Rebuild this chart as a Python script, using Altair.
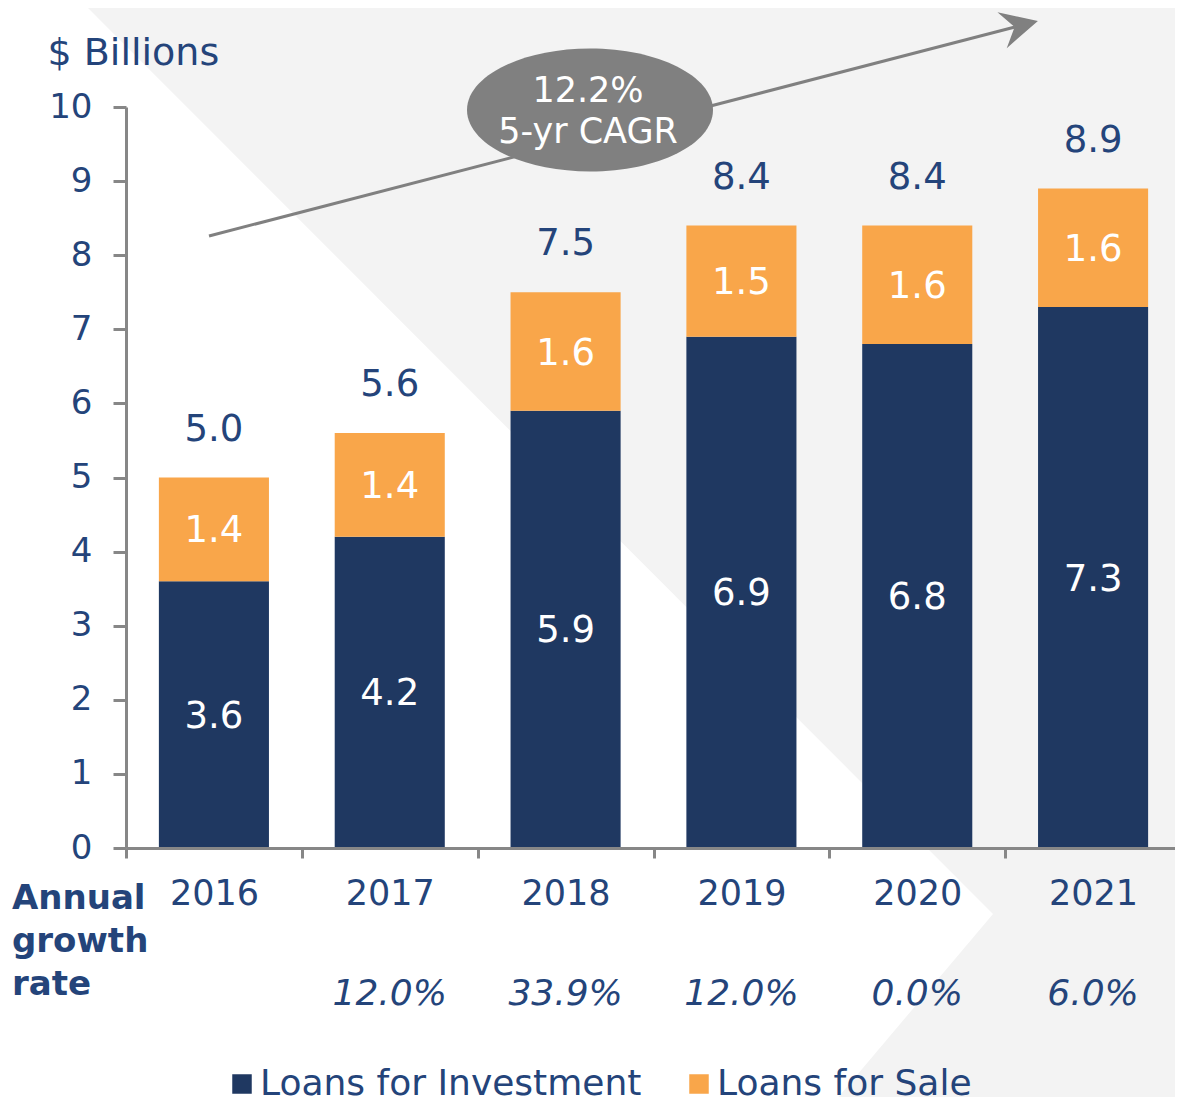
import altair as alt
import pandas as pd

# ---------------- data ----------------
years = ["2016", "2017", "2018", "2019", "2020", "2021"]
investment = [3.6, 4.2, 5.9, 6.9, 6.8, 7.3]
sale = [1.4, 1.4, 1.6, 1.5, 1.6, 1.6]
totals = [5.0, 5.6, 7.5, 8.4, 8.4, 8.9]
growth = ["", "12.0%", "33.9%", "12.0%", "0.0%", "6.0%"]
series = ["Loans for Investment", "Loans for Sale"]
cagr_text = "12.2%\n5-yr CAGR"
row_label = "Annual\ngrowth\nrate"
y_ticks = [0, 1, 2, 3, 4, 5, 6, 7, 8, 9, 10]

# ---------------- styles ----------------
NAVY_BAR = "#1f3861"
ORANGE = "#f9a64a"
TEXT = "#24447a"
GREY = "#808080"
AXIS_GREY = "#878787"
BG = "#f3f3f3"
FONT = "DejaVu Sans"

ARROW_PATH = "M1,0L-1,-1L-0.3,0L-1,1Z"
ELLIPSE_PATH = "M-1,0A1,0.5,0,1,0,1,0A1,0.5,0,1,0,-1,0Z"

# decorative white background polygon (plot-pixel coordinates)
bg_polygon = [[-136, -117], [-56, -117], [867, 807], [693, 1013], [-136, 1013], [-136, -117]]

rows = []
for i, yr in enumerate(years):
    rows.append({"year": yr, "series": series[0], "idx": 0, "value": investment[i]})
    rows.append({"year": yr, "series": series[1], "idx": 1, "value": sale[i]})
df = pd.DataFrame(rows)
tot_df = pd.DataFrame({"year": years, "total": totals, "growth": growth})
one = pd.DataFrame({"a": [0]})

x_axis = alt.Axis(
    title=None, labelAngle=0, labelFontSize=35, labelColor=TEXT, labelFont=FONT,
    labelPadding=18, tickBand="extent", tickSize=10, tickWidth=3, tickColor=AXIS_GREY,
    domainWidth=3, domainColor=AXIS_GREY, grid=False, zindex=1,
)
x_scale = alt.Scale(paddingInner=0, paddingOuter=0, range=[0, 1055])
y_axis = alt.Axis(
    values=y_ticks, title="$ Billions", titleAngle=0, titleAlign="left",
    titleBaseline="middle", titleX=-79, titleY=-54, titleFontSize=38,
    titleFontWeight="normal", titleColor=TEXT, titleFont=FONT,
    labelFontSize=34, labelColor=TEXT, labelFont=FONT, labelPadding=21,
    tickSize=13, tickWidth=3, tickColor=AXIS_GREY, domainWidth=3,
    domainColor=AXIS_GREY, grid=False, zindex=1,
)
y_scale = alt.Scale(domain=[0, 10])


def X():
    return alt.X("year:N", sort=years, scale=x_scale, axis=x_axis)


def Y(field):
    return alt.Y(field, scale=y_scale, axis=y_axis)


bg = alt.Chart(
    alt.Data(values=[{"type": "Feature", "properties": {},
                      "geometry": {"type": "Polygon", "coordinates": [bg_polygon]}}])
).mark_geoshape(fill="white", stroke="white", strokeWidth=0, clip=False).project(
    type="identity", scale=1, translate=[0, 0]
)

arrow_line = alt.Chart(one).mark_rule(color=GREY, strokeWidth=3).encode(
    x=alt.value(83), y=alt.value(129), x2=alt.value(889), y2=alt.value(-80)
)
arrow_head = alt.Chart(one).mark_point(
    shape=ARROW_PATH, size=1369, filled=True, color=GREY, opacity=1, angle=345.5
).encode(x=alt.value(894), y=alt.value(-81.4))
ellipse = alt.Chart(one).mark_point(
    shape=ELLIPSE_PATH, size=60516, filled=True, color=GREY, opacity=1
).encode(x=alt.value(464), y=alt.value(3))
cagr = alt.Chart(pd.DataFrame({"t": [cagr_text]})).mark_text(
    align="center", baseline="top", lineBreak="\n", lineHeight=41,
    fontSize=35, color="white", font=FONT
).encode(x=alt.value(462), y=alt.value(-33), text="t:N")

bars = alt.Chart(df).mark_bar(width=alt.RelativeBandSize(0.626)).encode(
    x=X(),
    y=alt.Y("value:Q", stack="zero", scale=y_scale, axis=y_axis),
    color=alt.Color(
        "series:N",
        scale=alt.Scale(domain=series, range=[NAVY_BAR, ORANGE]),
        legend=alt.Legend(
            title=None, orient="none", legendX=98, legendY=959,
            direction="horizontal", symbolType="square", symbolSize=380,
            symbolStrokeWidth=0, symbolOpacity=1, labelFontSize=36,
            labelColor=TEXT, labelFont=FONT, labelOffset=0, columnPadding=39,
            padding=0, labelLimit=800,
        ),
    ),
    order=alt.Order("idx:Q", sort="ascending"),
)

seg_labels = alt.Chart(df).transform_stack(
    stack="value", groupby=["year"], as_=["v0", "v1"], sort=[alt.SortField("idx")]
).transform_calculate(mid="(datum.v0 + datum.v1) / 2").mark_text(
    color="white", fontSize=37, baseline="middle", dy=2, font=FONT
).encode(x=X(), y=Y("mid:Q"), text=alt.Text("value:Q", format=".1f"))

total_labels = alt.Chart(tot_df).mark_text(
    color=TEXT, fontSize=37, baseline="middle", dy=-48, font=FONT
).encode(x=X(), y=Y("total:Q"), text=alt.Text("total:Q", format=".1f"))

growth_labels = alt.Chart(tot_df).mark_text(
    color=TEXT, fontSize=36, fontStyle="italic", baseline="middle", font=FONT
).encode(x=X(), y=alt.value(887), text="growth:N")

row_text = alt.Chart(pd.DataFrame({"t": [row_label]})).mark_text(
    align="left", baseline="top", lineBreak="\n", lineHeight=43,
    fontWeight="bold", fontSize=34, color=TEXT, font=FONT
).encode(x=alt.value(-114), y=alt.value(775), text="t:N")

chart = alt.layer(
    bg, arrow_line, ellipse, arrow_head, cagr,
    bars, seg_labels, total_labels, growth_labels, row_text
).properties(
    width=1049, height=741,
    padding={"left": 118, "top": 99, "right": 0, "bottom": 249},
    autosize=alt.AutoSizeParams(type="none"),
).configure(background=BG, font=FONT).configure_view(stroke=None)

chart.save("out.html", embed_options={"renderer": "svg", "actions": False})
